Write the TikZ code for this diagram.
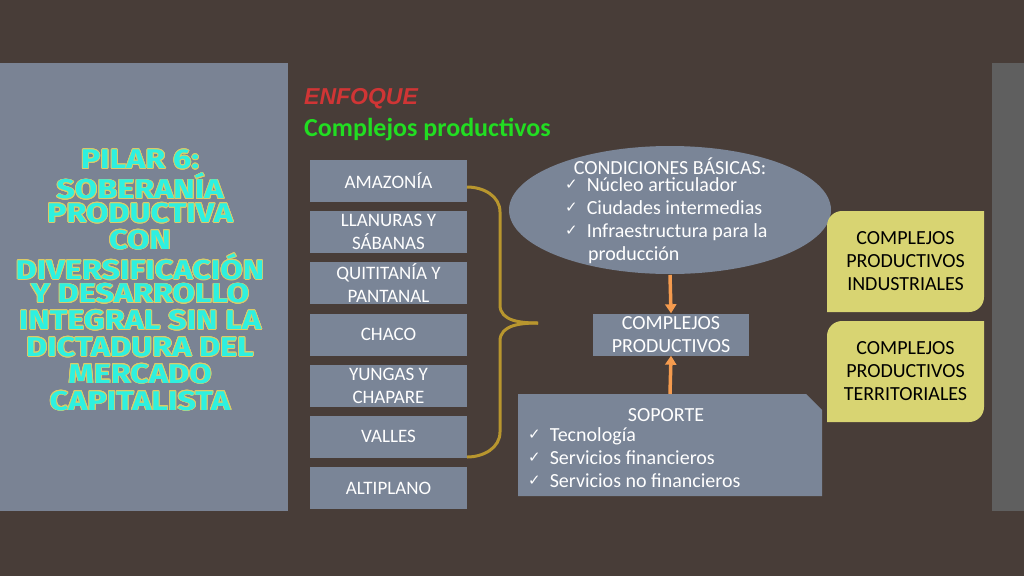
\documentclass[tikz,border=0pt]{standalone}
\usepackage{fontspec}
\setmainfont{Carlito}
\newfontfamily\pilarfont{Fira Sans}
\newfontfamily\headfont{Liberation Sans}
\newfontfamily\checkfont{DejaVu Sans}
\usepackage{contour}
\contourlength{0.7pt}
\usetikzlibrary{arrows.meta}
\usetikzlibrary{positioning}
\definecolor{fondo}{HTML}{483D38}
\definecolor{panel}{HTML}{7A8394}
\definecolor{caja}{HTML}{7A8597}
\definecolor{oro}{HTML}{B8962E}
\definecolor{naranja}{HTML}{F59B4E}
\definecolor{amarillo}{HTML}{D8D472}
\definecolor{cian}{HTML}{2EF0E0}
\definecolor{rojo}{HTML}{D03535}
\definecolor{verde}{HTML}{22DD22}
\definecolor{franja}{HTML}{5F5F5F}
\newcommand{\marca}{\raisebox{2pt}{\checkfont\fontsize{15}{15}\selectfont ✓}\hspace{9pt}}

\begin{document}
\begin{tikzpicture}[x=1pt, y=-1pt,
		region/.style={fill=caja, draw=none, minimum width=157pt, minimum height=42pt, align=center, text=white, font=\fontsize{19}{23}\selectfont, inner sep=0pt},
		flecha/.style={naranja, line width=3.5pt, -{Triangle[length=9pt, width=11pt]}},
		complejo/.style={text=black, align=center, font=\fontsize{20}{23}\selectfont},
		lista/.style={text=white, align=left, font=\fontsize{20}{23}\selectfont, inner sep=0pt}]
		\fill[fondo] (0,0) rectangle (1024,576);
		\fill[panel] (0,63) rectangle (288,511);
		\fill[franja] (992,63) rectangle (1024,511);
		
		% pilar
		\foreach \t [count=\i] in {PILAR 6:,SOBERANÍA,PRODUCTIVA,CON,DIVERSIFICACIÓN,Y DESARROLLO,INTEGRAL SIN LA,DICTADURA DEL,MERCADO,CAPITALISTA}
			\node [xscale=1.2, transform shape, font=\pilarfont\bfseries\fontsize{27}{27}\selectfont, text=cian] (p\i) at (140, 133+26.8*\i) {\contour{amarillo!90!orange}{\t}};
		
		% titulos
		\node [anchor=west, text=rojo, font=\headfont\bfseries\itshape\fontsize{23}{23}\selectfont, inner sep=0pt] (enfoque) at (304,99) {ENFOQUE};
		\node [anchor=west, text=verde, font=\bfseries\fontsize{26}{26}\selectfont, inner sep=0pt] (tema) at (304,130) {Complejos productivos};
		
		% regiones
		\node [region] (amazonia) at (388.5,180.5) {AMAZONÍA};
		\node [region] (llanuras) at (388.5,232) {LLANURAS Y\\SÁBANAS};
		\node [region] (quititania) at (388.5,283) {QUITITANÍA Y\\PANTANAL};
		\node [region] (chaco) at (388.5,334.5) {CHACO};
		\node [region] (yungas) at (388.5,386) {YUNGAS Y\\CHAPARE};
		\node [region] (valles) at (388.5,436.5) {VALLES};
		\node [region] (altiplano) at (388.5,488) {ALTIPLANO};
		
		% llave
		\draw [oro, line width=3pt] (467,187) to[out=0, in=90] (500,212) -- (500,305) to[out=-90, in=180] (538,323);
		\draw [oro, line width=3pt] (467,457) to[out=0, in=-90] (500,432) -- (500,341) to[out=90, in=180] (538,323);
		
		% condiciones
		\fill [caja] (670,210) ellipse [x radius=161pt, y radius=64pt];
		\node [text=white, font=\fontsize{20}{20}\selectfont] (condiciones) at (670,166) {CONDICIONES BÁSICAS:};
		\node [lista, anchor=north west] (clista) at (565,177) {\marca Núcleo articulador\\
			\marca Ciudades intermedias\\
			\marca Infraestructura para la\\
			\hspace{23pt}producción};
		\coordinate (elbajo) at (670,275);
		
		\node [region, minimum width=156pt, font=\fontsize{20}{23}\selectfont] (complejos) at (671,334.5) {COMPLEJOS\\PRODUCTIVOS};
		
		% soporte
		\fill [caja] (518,394) -- (806,394) -- (822,410) -- (822,496) -- (518,496) -- cycle;
		\coordinate (soptop) at (670,394);
		\node [text=white, font=\fontsize{20}{20}\selectfont] (soporte) at (666,415) {SOPORTE};
		\node [lista, anchor=north west] (slista) at (528,427) {\marca Tecnología\\
			\marca Servicios financieros\\
			\marca Servicios no financieros};
		
		\draw [flecha] (elbajo) -- (complejos.north);
		\draw [flecha] (soptop) -- (complejos.south);
		
		% tipos
		\fill [amarillo] (842,211) -- (984,211) -- (984,297) arc[start angle=0, end angle=90, radius=15] -- (827,312) -- (827,226) arc[start angle=180, end angle=270, radius=15] -- cycle;
		\node [complejo] (industriales) at (905.5,261.5) {COMPLEJOS\\PRODUCTIVOS\\INDUSTRIALES};
		\fill [amarillo] (842,321) -- (984,321) -- (984,407) arc[start angle=0, end angle=90, radius=15] -- (827,422) -- (827,336) arc[start angle=180, end angle=270, radius=15] -- cycle;
		\node [complejo] (territoriales) at (905.5,371.5) {COMPLEJOS\\PRODUCTIVOS\\TERRITORIALES};
\end{tikzpicture}
\end{document}
